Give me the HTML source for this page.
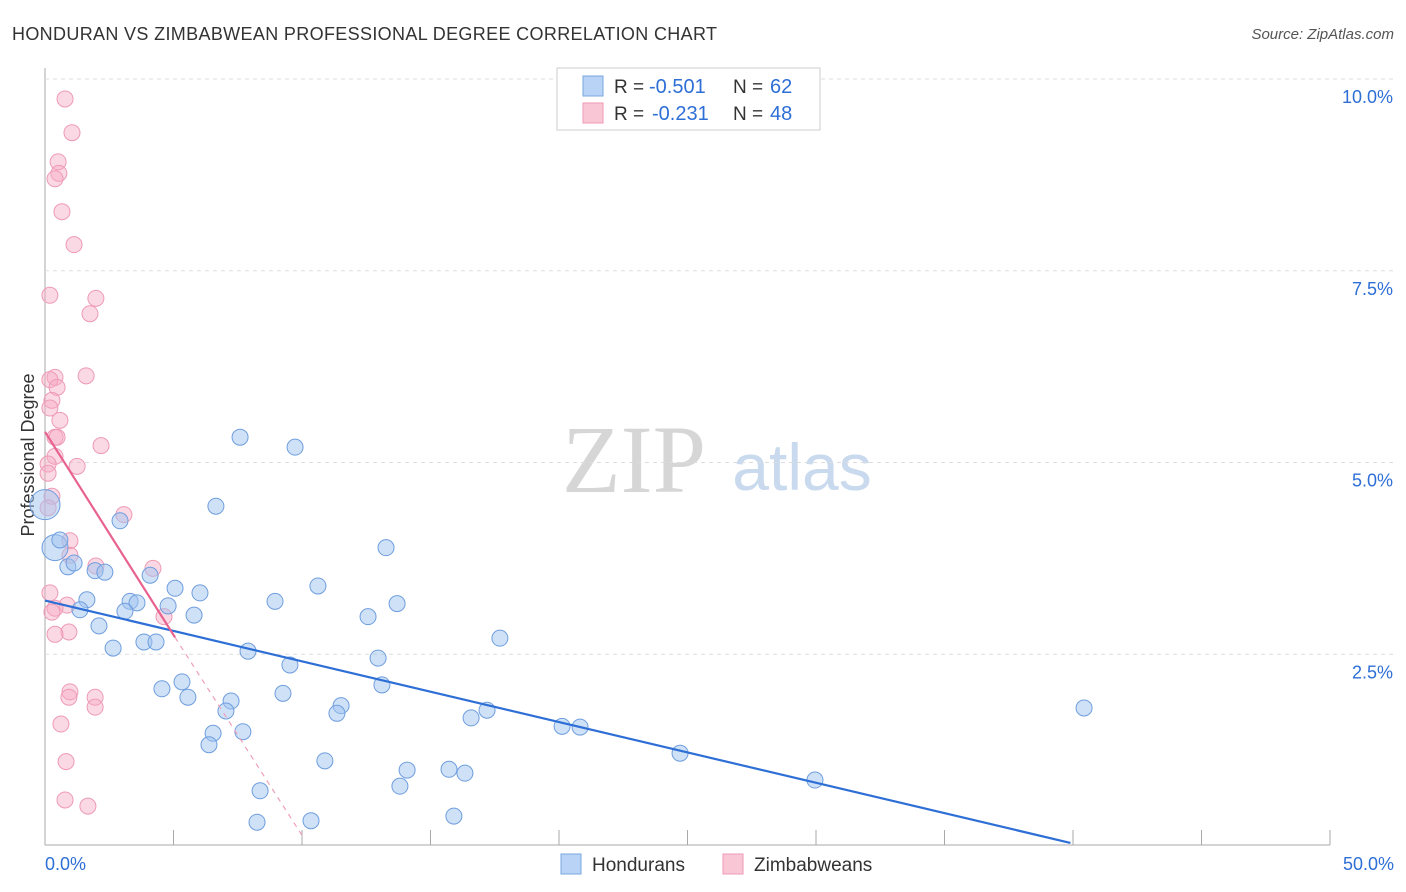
<!DOCTYPE html>
<html><head><meta charset="utf-8"><style>
body{margin:0;background:#fff;font-family:"Liberation Sans",sans-serif}
svg{display:block}
</style></head><body>
<svg id="c" width="1406" height="892">
<text x="12" y="40" font-size="18" fill="#333" textLength="705">HONDURAN VS ZIMBABWEAN PROFESSIONAL DEGREE CORRELATION CHART</text>
<text x="1394" y="39" font-size="15" fill="#555" text-anchor="end" font-style="italic">Source: ZipAtlas.com</text>
<text x="634" y="492" font-size="96" fill="#d6d6d6" font-family="Liberation Serif,serif" text-anchor="middle">ZIP</text>
<text x="802" y="490" font-size="66" fill="#c9d9ee" text-anchor="middle">atlas</text>
<text x="34" y="455" font-size="18" fill="#333" text-anchor="middle" transform="rotate(-90 34 455)">Professional Degree</text>
<g id="grid"></g><g id="marks"></g>
<g>
<rect x="557" y="68" width="263" height="62" fill="#fff" stroke="#ccc"/>
<rect x="583" y="76" width="20" height="20" fill="#b8d3f5" stroke="#7aa7e0"/>
<rect x="583" y="103" width="20" height="20" fill="#f9c6d6" stroke="#ee99b4"/>
<text x="614" y="93" font-size="19" fill="#333">R =</text>
<text x="649" y="93" font-size="20" fill="#2e6fd6">-0.501</text>
<text x="733" y="93" font-size="19" fill="#333">N =</text>
<text x="770" y="93" font-size="20" fill="#2e6fd6">62</text>
<text x="614" y="120" font-size="19" fill="#333">R =</text>
<text x="652" y="120" font-size="20" fill="#2e6fd6">-0.231</text>
<text x="733" y="120" font-size="19" fill="#333">N =</text>
<text x="770" y="120" font-size="20" fill="#2e6fd6">48</text>
</g>
<g>
<rect x="561" y="854" width="20" height="20" fill="#b8d3f5" stroke="#7aa7e0"/>
<text x="592" y="871" font-size="19" fill="#333">Hondurans</text>
<rect x="723" y="854" width="20" height="20" fill="#f9c6d6" stroke="#ee99b4"/>
<text x="754" y="871" font-size="19" fill="#333">Zimbabweans</text>
</g>
</svg>
<script>
const xTicks=[0,5,10,15,20,25,30,35,40,45,50];
const yTicks=[2.5,5,7.5,10];
const yTickLabels=["2.5%","5.0%","7.5%","10.0%"];
const blueX=[7.59,9.73,6.65,2.92,0.39,0.58,0.89,1.13,1.95,2.33,4.09,5.06,6.03,10.62,13.27,1.63,3.31,3.58,4.79,1.36,3.11,5.80,8.95,12.57,13.70,17.70,2.10,2.65,3.85,4.32,7.90,9.53,12.96,4.55,5.33,5.56,7.24,7.04,9.26,11.52,11.36,13.11,16.58,17.20,20.12,20.82,40.43,6.54,7.70,6.38,24.71,10.89,14.09,15.72,16.34,8.37,13.81,29.96,8.25,10.35,15.91,0];
const blueY=[5.33,5.20,4.43,4.24,3.89,3.99,3.64,3.69,3.59,3.57,3.53,3.36,3.30,3.39,3.89,3.21,3.19,3.17,3.13,3.08,3.06,3.01,3.19,2.99,3.16,2.71,2.87,2.58,2.66,2.66,2.54,2.36,2.45,2.05,2.14,1.94,1.89,1.76,1.99,1.83,1.73,2.10,1.67,1.77,1.56,1.55,1.80,1.47,1.49,1.32,1.21,1.11,0.99,1.00,0.95,0.72,0.78,0.86,0.31,0.33,0.39,4.45];
const blueSize=[8,8,8,8,13,8,8,8,8,8,8,8,8,8,8,8,8,8,8,8,8,8,8,8,8,8,8,8,8,8,8,8,8,8,8,8,8,8,8,8,8,8,8,8,8,8,8,8,8,8,8,8,8,8,8,8,8,8,8,8,8,15];
const pinkX=[0.78,1.05,0.51,0.54,0.39,0.66,1.13,0.19,1.98,1.75,1.60,0.39,0.19,0.47,0.27,0.19,0.58,0.39,0.47,2.18,0.39,1.25,0.12,0.12,0.27,0.12,3.07,0.97,0.97,1.98,4.20,0.19,0.86,0.39,0.27,4.63,0.93,0.39,0.97,0.93,1.95,1.95,0.62,0.82,0.78,1.67];
const pinkY=[9.74,9.30,8.92,8.77,8.70,8.27,7.84,7.18,7.14,6.94,6.13,6.11,6.08,5.98,5.81,5.71,5.55,5.33,5.33,5.22,5.08,4.95,4.98,4.86,4.56,4.41,4.32,3.98,3.79,3.65,3.62,3.30,3.14,3.10,3.05,2.99,2.79,2.76,2.01,1.94,1.94,1.81,1.59,1.10,0.60,0.52];
const blueTrend=[[0,3.2],[39.9,0.04]];
const pinkTrend=[[0,5.4],[5.06,2.72]];
const pinkTrendDash=[[5.06,2.72],[10.0,0.14]];
const X=v=>45+v*25.7, Y=v=>846-v*76.7;
const NS="http://www.w3.org/2000/svg";
function mk(t,a,p){const e=document.createElementNS(NS,t);for(const k in a)e.setAttribute(k,a[k]);p.appendChild(e);return e;}
const g=document.getElementById('grid'),m=document.getElementById('marks');
mk('line',{x1:45,y1:845,x2:1330,y2:845,stroke:'#aaa'},g);
mk('line',{x1:45,y1:68,x2:45,y2:845,stroke:'#aaa'},g);
yTicks.forEach((t,i)=>{
 const l=mk('line',{x1:45,y1:Y(t),x2:1394,y2:Y(t),stroke:'#ddd','stroke-dasharray':'4,4'},g);
 
 
 const tx=mk('text',{x:1393,y:Y(t)+24,'font-size':18,fill:'#2e6fd6','text-anchor':'end'},g);tx.textContent=yTickLabels[i];
 
 
});
xTicks.forEach(t=>{const l=mk('line',{x1:X(t),y1:830,x2:X(t),y2:845,stroke:'#aaa'},g);
 
 });
[[0,'0.0%','start',45],[50,'50.0%','end',1394]].forEach(a=>{const tx=mk('text',{x:a[3],y:870,'font-size':18,fill:'#2e6fd6','text-anchor':a[2]},g);tx.textContent=a[1];
 
 });
pinkX.forEach((v,i)=>{const c=mk('circle',{cx:X(v),cy:Y(pinkY[i]),r:8,fill:'rgba(246,170,195,0.45)',stroke:'#ee9ab5','stroke-width':1},m);
 
 });
blueX.forEach((v,i)=>{const c=mk('circle',{cx:X(v),cy:Y(blueY[i]),r:blueSize[i],fill:'rgba(160,195,240,0.5)',stroke:'#6f9ede','stroke-width':1},m);
 
 });
let l=mk('line',{x1:X(blueTrend[0][0]),y1:Y(blueTrend[0][1]),x2:X(blueTrend[1][0]),y2:Y(blueTrend[1][1]),stroke:'#2e6fd6','stroke-width':2.2},m);


l=mk('line',{x1:X(pinkTrend[0][0]),y1:Y(pinkTrend[0][1]),x2:X(pinkTrend[1][0]),y2:Y(pinkTrend[1][1]),stroke:'#e8628f','stroke-width':2.2},m);


l=mk('line',{x1:X(pinkTrendDash[0][0]),y1:Y(pinkTrendDash[0][1]),x2:X(pinkTrendDash[1][0]),y2:Y(pinkTrendDash[1][1]),stroke:'#eea0b8','stroke-width':1.2,'stroke-dasharray':'5,5'},m);


</script>
</body></html>
